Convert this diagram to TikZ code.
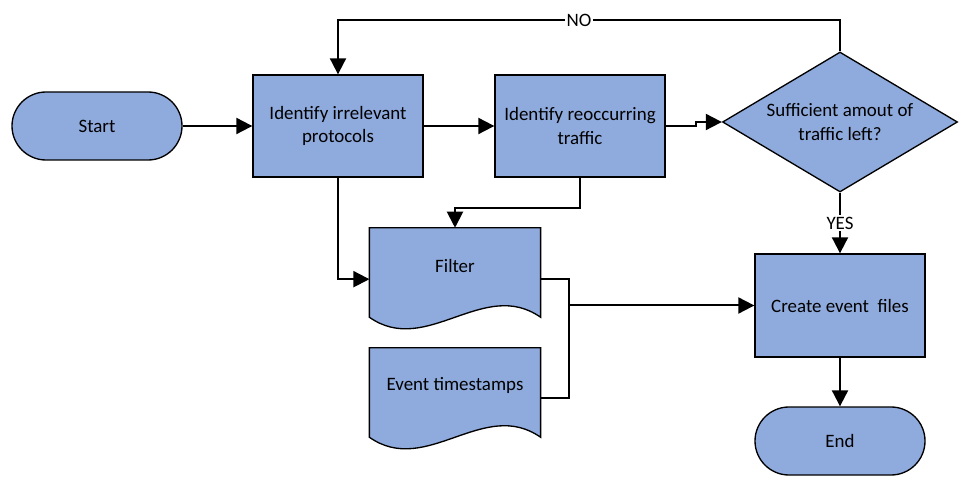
\documentclass[tikz,border=0pt]{standalone}
\usepackage{fontspec}
\setmainfont{Carlito}
\usetikzlibrary{shapes.geometric,arrows.meta,calc}
\definecolor{shapefill}{HTML}{8FAADC}
\begin{document}
\begin{tikzpicture}[x=0.75pt,y=-0.75pt,
  every node/.style={font=\fontsize{14.2}{17.3}\selectfont, text=black},
  proc/.style={draw, fill=shapefill, line width=1pt, minimum width=127.5pt, minimum height=76.5pt, inner sep=0pt, align=center},
  term/.style={proc, minimum height=51pt, rounded corners=25.5pt},
  docarea/.style={inner sep=0pt, minimum width=128pt, minimum height=66.75pt},
  docline/.style={draw, fill=shapefill, line width=1pt},
  decision/.style={draw, fill=shapefill, line width=1pt, diamond, aspect=1.68, minimum width=176.25pt, minimum height=105pt, inner sep=0pt, align=center},
  conn/.style={line width=1.5pt},
  arr/.style={conn, -{Triangle[length=12pt,width=12pt]}},
  lbl/.style={fill=white, inner sep=1.5pt}
]
\useasboundingbox (0,0) rectangle (977,491);

% nodes
\node[term] (start) at (97,126) {Start};
\node[proc] (box1) at (338,126) {Identify irrelevant\\protocols};
\node[proc] (box2) at (580,126) {Identify reoccurring\\traffic};
\node[decision] (dia) at (840,122) {Sufficient amout of\\traffic left?};
\node[proc, minimum height=77.25pt] (create) at (840,305.5) {Create event~ files};
\node[term] (end) at (840,441) {End};

% documents
\node[docarea] (filter) at (455,272.5) {};
\draw[docline] (filter.north west) -- (filter.south west)
  .. controls +(57,40) and +(-57,-40) .. (filter.south east)
  -- (filter.north east) -- cycle;
\node (filtertext) at (455,266) {Filter};

\node[docarea] (ets) at (455,392.5) {};
\draw[docline] (ets.north west) -- (ets.south west)
  .. controls +(57,40) and +(-57,-40) .. (ets.south east)
  -- (ets.north east) -- cycle;
\node (etstext) at (455,385) {Event timestamps};

% connectors
\draw[arr] (start.east) -- (box1.west);
\draw[arr] (box1.east) -- (box2.west);
\draw[arr] (box2.east) -- ++(30,0) |- (dia.west);
\draw[arr] (dia.north) -- ++(0,-31) -| node[lbl, pos=0.26] (nolabel) {NO} (box1.north);
\draw[arr] (dia.south) -- node[lbl] (yeslabel) {YES} (create.north);
\draw[arr] (create.south) -- (end.north);
\draw[arr] (box1.south) |- ([yshift=-5pt]filter.west);
\draw[arr] (box2.south) -- ++(0,30) -| (filter.north);
\coordinate (join) at (569,305.5);
\draw[conn] ([yshift=-5pt]filter.east) -| (join);
\draw[conn] ([yshift=-4pt]ets.east) -| (join);
\draw[arr] (join) -- (create.west);
\end{tikzpicture}
\end{document}
